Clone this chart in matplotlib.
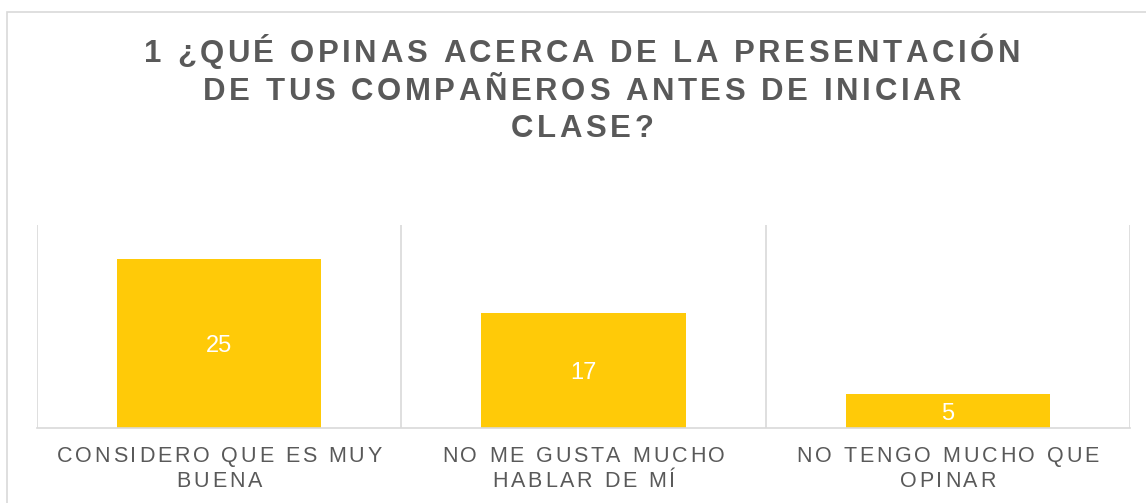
import matplotlib
matplotlib.use("Agg")
import matplotlib.pyplot as plt
from matplotlib.font_manager import FontProperties
from matplotlib.textpath import text_to_path
from matplotlib.patches import Rectangle

categories = [["CONSIDERO QUE ES MUY", "BUENA"],
              ["NO ME GUSTA MUCHO", "HABLAR DE MÍ"],
              ["NO TENGO MUCHO QUE", "OPINAR"]]
values = [25, 17, 5]
title_lines = ["1 ¿QUÉ OPINAS ACERCA DE LA PRESENTACIÓN",
               "DE TUS COMPAÑEROS ANTES DE INICIAR",
               "CLASE?"]

W, H, DPI = 1146, 503, 100
fig = plt.figure(figsize=(W / DPI, H / DPI), dpi=DPI)
fig.patch.set_facecolor("white")

# outer chart border
fig.patches.append(Rectangle((7 / W, -0.1), 1.2, 1 - 12 / H + 0.1, transform=fig.transFigure,
                             fill=False, edgecolor="#D9D9D9", linewidth=1.2))

ax = fig.add_axes([37 / W, 1 - 428 / H, (1130 - 37) / W, (428 - 225) / H])
x = list(range(len(values)))
bars = ax.bar(x, values, width=0.56, color="#FFCA08", zorder=2)
ax.set_xlim(-0.5, len(values) - 0.5)
ax.set_ylim(0, 30)
for b in [i - 0.5 for i in range(len(values) + 1)]:
    ax.axvline(b, color="#D9D9D9", linewidth=1.2, zorder=1)
for s in ["top", "left", "right"]:
    ax.spines[s].set_visible(False)
ax.spines["bottom"].set_color("#D9D9D9")
ax.spines["bottom"].set_linewidth(1.2)
ax.set_xticks([])
ax.set_yticks([])

for xi, v in zip(x, values):
    ax.text(xi, v / 2, str(v), ha="center", va="center_baseline", color="white",
            fontsize=17, family="Liberation Sans")


def tracked(text, cx_px, base_px, prop, track_px, color):
    widths = []
    for ch in text:
        w, h, d = text_to_path.get_text_width_height_descent(ch, prop, ismath=False)
        widths.append(w * DPI / 72.0)
    total = sum(widths) + track_px * (len(text) - 1)
    xp = cx_px - total / 2
    for ch, w in zip(text, widths):
        fig.text(xp / W, 1 - base_px / H, ch, fontproperties=prop, color=color,
                 ha="left", va="baseline")
        xp += w + track_px


tprop = FontProperties(family="Liberation Sans", weight="bold", size=22.4)
for i, line in enumerate(title_lines):
    tracked(line, 582, 62 + i * 37.5, tprop, 3.6, "#595959")

lprop = FontProperties(family="Liberation Sans", size=15.5)
fig.canvas.draw()
for xi, lines in zip(x, categories):
    cx = ax.transData.transform((xi, 0))[0]
    for j, line in enumerate(lines):
        tracked(line, cx, 462 + j * 25, lprop, 2.8, "#595959")

fig.savefig("out.png", dpi=DPI)
